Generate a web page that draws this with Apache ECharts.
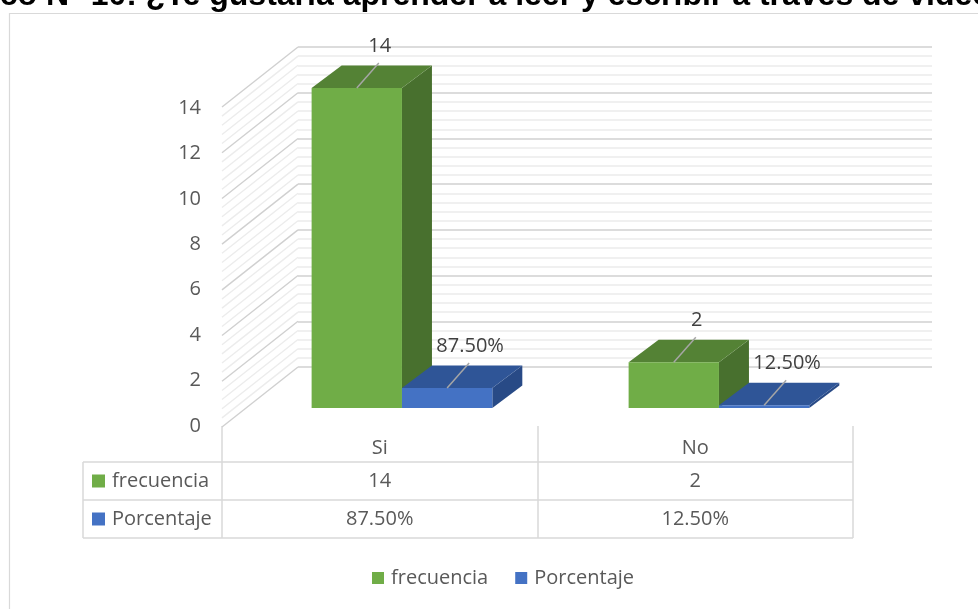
<!DOCTYPE html>
<html>
<head>
<meta charset="utf-8">
<title>Gráfico N° 10</title>
<script src="https://cdn.jsdelivr.net/npm/echarts@6/dist/echarts.min.js"></script>
<style>
  html, body { margin: 0; padding: 0; background: #fff; }
  #chart { width: 978px; height: 609px; }
</style>
</head>
<body>
<div id="chart"></div>
<script>
const titulo = 'Gráfico N° 10: ¿Te gustaría aprender a leer y escribir a través de videos?'
const categorias = ['Si', 'No']
const frecuencia = [14, 2]
const porcentaje = [0.875, 0.125]
const ticksY = { min: 0, max: 14, interval: 2, minor: 5 }

const FONT = '"Open Sans", "Noto Sans", sans-serif'
const GRAY = '#595959'
const LINE = '#d9d9d9'
const VERDE = ['#70ad47', '#548235', '#48702e']
const AZUL = ['#4472c4', '#2f5597', '#284a86']

// front plane of the walls = back wall shifted by this
const WALL_DX = -76, WALL_DY = 60
const fmtPct = v => (v * 100).toFixed(2) + '%'

const chart = echarts.init(document.getElementById('chart'))

// 3d box for one bar, slot 0 = left of the category centre, 1 = right
function barItem(slot, colors, fmt) {
  return function (params, api) {
    const i = api.value(0), v = api.value(1)
    const base = api.coord([i, 0])
    const top = api.coord([i, v])
    const band = api.size([1, 0])[0]
    const w = band * 0.285
    const fx = -52, fy = 41, bx = 30, by = -22.5
    const x0 = base[0] + fx - band * 0.008 + (slot === 0 ? -w : 0)
    const x1 = x0 + w
    const yb = base[1] + fy, yt = top[1] + fy
    const mx = (x0 + x1) / 2
    return {
      type: 'group',
      children: [
        { type: 'polygon', shape: { points: [[x1, yt], [x1 + bx, yt + by], [x1 + bx, yb + by], [x1, yb]] }, style: { fill: colors[2] } },
        { type: 'polygon', shape: { points: [[x0, yt], [x0 + bx, yt + by], [x1 + bx, yt + by], [x1, yt]] }, style: { fill: colors[1] } },
        { type: 'rect', shape: { x: x0, y: yt, width: w, height: yb - yt }, style: { fill: colors[0] } },
        { type: 'line', shape: { x1: mx, y1: yt, x2: mx + 22, y2: yt - 25 }, style: { stroke: '#a6a6a6', lineWidth: 1.5 } },
        { type: 'text', x: mx + 23, y: yt - 42, style: { text: fmt(v), font: '20px ' + FONT, fill: '#404040', align: 'center', verticalAlign: 'middle' } },
      ],
    }
  }
}

// diagonal lines of the side wall
function wallItem(params, api) {
  const cs = params.coordSys
  const step = ticksY.interval / ticksY.minor
  const n = Math.round((ticksY.max - ticksY.min) / step)
  const children = []
  for (let k = 0; k <= n; k++) {
    const y = api.coord([0, ticksY.min + k * step])[1]
    children.push({
      type: 'line',
      shape: { x1: cs.x + WALL_DX, y1: y + WALL_DY, x2: cs.x, y2: y },
      style: { stroke: k % ticksY.minor === 0 ? '#d0d0d0' : '#ececec', lineWidth: 1.4 },
    })
  }
  return { type: 'group', children }
}

const tableLines = [462, 500, 538].map(y => ({
  type: 'line', shape: { x1: 83, y1: y, x2: 853, y2: y }, style: { stroke: LINE, lineWidth: 1.5 },
}))

const rowHeads = [['frecuencia', VERDE[0], 481], ['Porcentaje', AZUL[0], 519]].flatMap(([t, c, y]) => [
  { type: 'rect', shape: { x: 92, y: y - 6.5, width: 13, height: 13 }, style: { fill: c } },
  { type: 'text', x: 112, y: y, style: { text: t, font: '20px ' + FONT, fill: GRAY, verticalAlign: 'middle' } },
])

chart.setOption({
  animation: false,
  grid: [
    { left: 298, top: 47, right: 46, bottom: 242 },
    { left: 222, top: 108, right: 125, bottom: 183 },
  ],
  xAxis: [
    { type: 'category', gridIndex: 0, data: categorias, show: false },
    {
      type: 'category', gridIndex: 1, data: categorias,
      axisLine: { show: true, onZero: false, lineStyle: { color: LINE, opacity: 0 } },
      axisTick: { show: true, length: 112, lineStyle: { color: LINE, width: 1.5, opacity: 1 } },
      axisLabel: { margin: 12, fontSize: 20, fontFamily: FONT, color: GRAY },
    },
    {
      type: 'category', gridIndex: 1, data: categorias, position: 'bottom', offset: 33,
      axisLine: { show: false }, axisTick: { show: false },
      axisLabel: { margin: 12, fontSize: 20, fontFamily: FONT, color: GRAY, formatter: (v, i) => String(frecuencia[i]) },
    },
    {
      type: 'category', gridIndex: 1, data: categorias, position: 'bottom', offset: 71,
      axisLine: { show: false }, axisTick: { show: false },
      axisLabel: { margin: 12, fontSize: 20, fontFamily: FONT, color: GRAY, formatter: (v, i) => fmtPct(porcentaje[i]) },
    },
  ],
  yAxis: [
    {
      type: 'value', gridIndex: 0, min: ticksY.min, max: ticksY.max, interval: ticksY.interval,
      axisLabel: { show: false }, axisLine: { show: false }, axisTick: { show: false },
      splitLine: { lineStyle: { color: '#d0d0d0', width: 1.5 } },
      minorTick: { show: false, splitNumber: ticksY.minor },
      minorSplitLine: { show: true, lineStyle: { color: '#ececec', width: 1.5 } },
    },
    {
      type: 'value', gridIndex: 1, min: ticksY.min, max: ticksY.max, interval: ticksY.interval,
      axisLine: { show: false }, axisTick: { show: false }, splitLine: { show: false },
      axisLabel: { margin: 21, fontSize: 20, fontFamily: FONT, color: GRAY },
    },
  ],
  legend: {
    data: ['frecuencia', 'Porcentaje'],
    left: 372, top: 568, padding: 0,
    icon: 'rect', itemWidth: 12, itemHeight: 12, itemGap: 27,
    textStyle: { fontSize: 20, fontFamily: FONT, color: GRAY, padding: [0, 0, 0, 2] },
  },
  graphic: [
    { type: 'rect', shape: { x: 9.5, y: 13.5, width: 1200, height: 1200 }, style: { fill: 'none', stroke: LINE, lineWidth: 1.2 }, silent: true },
    { type: 'text', x: -75, y: -4, style: { text: titulo, font: 'bold 32px "Liberation Sans", Arial, sans-serif', fill: '#000', verticalAlign: 'middle' } },
    { type: 'line', shape: { x1: 83, y1: 462, x2: 83, y2: 538 }, style: { stroke: LINE, lineWidth: 1.5 } },
    ...tableLines,
    ...rowHeads,
  ],
  series: [
    {
      name: 'pared', type: 'custom', xAxisIndex: 0, yAxisIndex: 0, silent: true,
      renderItem: wallItem, data: [[0, 0]],
    },
    {
      name: 'frecuencia', type: 'custom', xAxisIndex: 0, yAxisIndex: 0,
      itemStyle: { color: VERDE[0] },
      renderItem: barItem(0, VERDE, v => String(v)),
      data: frecuencia.map((v, i) => [i, v]),
    },
    {
      name: 'Porcentaje', type: 'custom', xAxisIndex: 0, yAxisIndex: 0,
      itemStyle: { color: AZUL[0] },
      renderItem: barItem(1, AZUL, fmtPct),
      data: porcentaje.map((v, i) => [i, v]),
    },
  ],
})
</script>
</body>
</html>
